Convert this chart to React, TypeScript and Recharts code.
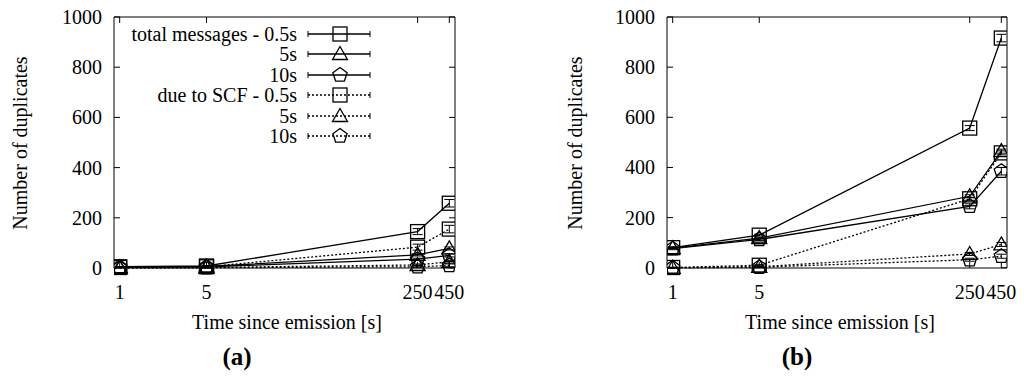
import React from 'react';
import { LineChart, Line, XAxis, YAxis, ErrorBar, ReferenceLine } from 'recharts';

// x positions (log scale) and tick labels
const times = [1, 5, 250, 450];
const yTicks = [0, 200, 400, 600, 800, 1000];

// (a)
const aTotal05 = [5, 8, 145, 258];
const aTotal5 = [3, 6, 52, 78];
const aTotal10 = [3, 5, 35, 50];
const aScf05 = [2, 5, 83, 155];
const aScf5 = [0, 2, 12, 25];
const aScf10 = [0, 1, 5, 10];
const aErrBig = [1, 1, 12, 15];
const aErrSmall = [0, 1, 4, 6];

// (b)
const bTotal05 = [80, 130, 557, 916];
const bTotal5 = [78, 118, 285, 465];
const bTotal10 = [76, 113, 245, 385];
const bScf05 = [1, 10, 275, 458];
const bScf5 = [0, 4, 55, 93];
const bScf10 = [0, 2, 32, 46];
const bErrBig = [4, 4, 10, 15];
const bErrSmall = [1, 2, 6, 8];

const legendNames = ['total messages - 0.5s', '5s', '10s', 'due to SCF - 0.5s', '5s', '10s'];
const shapes = ['square', 'triangle', 'pentagon', 'square', 'triangle', 'pentagon'];

const FONT = "'Liberation Serif', 'Times New Roman', 'DejaVu Serif', serif";
const txt = { fontFamily: FONT, fontSize: 20 };
const TOP = 17;
const BOTTOM = 268;

function marker(shape: string, cx: number, cy: number, key?: any) {
  const st = { fill: 'none', stroke: '#000', strokeWidth: 1.3 };
  if (shape === 'square') {
    return <rect key={key} x={cx - 7} y={cy - 7} width={14} height={14} {...st} />;
  }
  if (shape === 'triangle') {
    const pts = `${cx},${cy - 7.5} ${cx + 7.5},${cy + 5.5} ${cx - 7.5},${cy + 5.5}`;
    return <polygon key={key} points={pts} {...st} />;
  }
  const pts = [0, 1, 2, 3, 4]
    .map((i) => {
      const a = -Math.PI / 2 + (i * 2 * Math.PI) / 5;
      return `${cx + 7.5 * Math.cos(a)},${cy + 7.5 * Math.sin(a)}`;
    })
    .join(' ');
  return <polygon key={key} points={pts} {...st} />;
}

function rows(vals: number[], errs: number[]) {
  return times.map((x, i) => ({ x, y: vals[i], e: errs[i] }));
}

type PanelProps = {
  series: number[][];
  errs: number[][];
  left: number;
  right: number;
};

function Panel({ series, errs, left, right }: PanelProps) {
  const XTick = (p: any) => (
    <g>
      <line x1={p.x} x2={p.x} y1={BOTTOM} y2={BOTTOM - 6} stroke="#000" />
      <line x1={p.x} x2={p.x} y1={TOP} y2={TOP + 6} stroke="#000" />
      <text x={p.x} y={292} dy="0.35em" textAnchor="middle" style={txt} fill="#000">
        {p.payload.value}
      </text>
    </g>
  );
  const YTick = (p: any) => (
    <g>
      <line x1={left} x2={left + 6} y1={p.y} y2={p.y} stroke="#000" />
      <line x1={right} x2={right - 6} y1={p.y} y2={p.y} stroke="#000" />
      <text x={left - 12} y={p.y} dy="0.35em" textAnchor="end" style={txt} fill="#000">
        {p.payload.value}
      </text>
    </g>
  );
  return (
    <LineChart
      width={512}
      height={320}
      margin={{ top: TOP, left: left - 60, right: 512 - right, bottom: 22 }}
    >
      <XAxis
        type="number"
        dataKey="x"
        scale="log"
        domain={[0.9, 500]}
        allowDataOverflow
        ticks={times}
        tickLine={false}
        tick={XTick}
        height={30}
        axisLine={{ stroke: '#000' }}
      />
      <YAxis
        type="number"
        domain={[0, 1000]}
        ticks={yTicks}
        tickLine={false}
        tick={YTick}
        width={60}
        axisLine={{ stroke: '#000' }}
      />
      <ReferenceLine y={1000} stroke="#000" />
      <ReferenceLine x={500} stroke="#000" />
      {series.map((vals, i) => (
        <Line
          key={i}
          data={rows(vals, errs[i])}
          dataKey="y"
          stroke="#000"
          strokeWidth={1.3}
          strokeDasharray={i >= 3 ? '2 2' : undefined}
          isAnimationActive={false}
          dot={(p: any) => marker(shapes[i], p.cx, p.cy, p.key ?? p.index)}
          activeDot={false}
        >
          <ErrorBar dataKey="e" width={5} stroke="#000" strokeWidth={1} />
        </Line>
      ))}
    </LineChart>
  );
}

function Legend() {
  const rowY = [34, 54, 75, 95, 116, 136];
  return (
    <g>
      {legendNames.map((name, i) => (
        <g key={i}>
          <text x={297} y={rowY[i]} dy="0.35em" textAnchor="end" style={txt} fill="#000">
            {name}
          </text>
          <line
            x1={308}
            x2={370}
            y1={rowY[i]}
            y2={rowY[i]}
            stroke="#000"
            strokeWidth={1.3}
            strokeDasharray={i >= 3 ? '2 2' : undefined}
          />
          <line x1={308} x2={308} y1={rowY[i] - 3} y2={rowY[i] + 3} stroke="#000" />
          <line x1={370} x2={370} y1={rowY[i] - 3} y2={rowY[i] + 3} stroke="#000" />
          {marker(shapes[i], 340, rowY[i])}
        </g>
      ))}
    </g>
  );
}

export default function App() {
  return (
    <div style={{ position: 'absolute', left: 0, top: 0, width: 1024, height: 380, background: '#fff', fontFamily: FONT }}>
      <div style={{ position: 'absolute', left: 0, top: 0 }}>
        <Panel
          series={[aTotal05, aTotal5, aTotal10, aScf05, aScf5, aScf10]}
          errs={[aErrBig, aErrSmall, aErrSmall, aErrBig, aErrSmall, aErrSmall]}
          left={114}
          right={455}
        />
      </div>
      <div style={{ position: 'absolute', left: 512, top: 0 }}>
        <Panel
          series={[bTotal05, bTotal5, bTotal10, bScf05, bScf5, bScf10]}
          errs={[bErrBig, bErrSmall, bErrBig, bErrSmall, bErrSmall, bErrSmall]}
          left={155}
          right={495}
        />
      </div>
      <svg width={1024} height={380} style={{ position: 'absolute', left: 0, top: 0, pointerEvents: 'none' }}>
        <Legend />
        <g fill="#000">
          <text x={287} y={322} dy="0.35em" textAnchor="middle" style={txt}>Time since emission [s]</text>
          <text x={840} y={322} dy="0.35em" textAnchor="middle" style={txt}>Time since emission [s]</text>
          <text transform="translate(20,143) rotate(-90)" dy="0.35em" textAnchor="middle" style={txt}>
            Number of duplicates
          </text>
          <text transform="translate(575,143) rotate(-90)" dy="0.35em" textAnchor="middle" style={txt}>
            Number of duplicates
          </text>
          <text x={237} y={356} dy="0.35em" textAnchor="middle" style={{ fontFamily: FONT, fontSize: 25, fontWeight: 'bold' }}>(a)</text>
          <text x={797} y={356} dy="0.35em" textAnchor="middle" style={{ fontFamily: FONT, fontSize: 25, fontWeight: 'bold' }}>(b)</text>
        </g>
      </svg>
    </div>
  );
}
